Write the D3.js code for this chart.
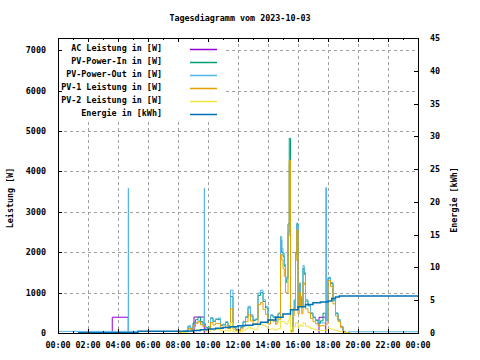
<!DOCTYPE html>
<html><head><meta charset="utf-8">
<script src="https://cdn.jsdelivr.net/npm/d3@7"></script>
<style>
html,body{margin:0;padding:0;background:#fff;}
text{font-family:"DejaVu Sans Mono",monospace;font-size:8.4px;fill:#000;font-weight:bold;}
</style></head>
<body>
<svg id="c" width="480" height="360"></svg>
<script>
const title = "Tagesdiagramm vom 2023-10-03";
const xTickLabels = ["00:00","02:00","04:00","06:00","08:00","10:00","12:00","14:00","16:00","18:00","20:00","22:00","00:00"];
const yLeftTicks = [0,1000,2000,3000,4000,5000,6000,7000];
const yRightTicks = [0,5,10,15,20,25,30,35,40,45];
const seriesNames = ["AC Leistung in [W]","PV-Power-In in [W]","PV-Power-Out in [W]","PV-1 Leistung in [W]","PV-2 Leistung in [W]","Energie in [kWh]"];
const seriesColors = ["#9400d3","#009e73","#56b4e9","#e69f00","#f0e442","#0072b2"];

// 10-minute readings
const dayTimes = ["08:00","08:10","08:20","08:30","08:40","08:50","09:00","09:10","09:20","09:30","09:40","09:50",
"10:00","10:10","10:20","10:30","10:40","10:50","11:00","11:10","11:20","11:30","11:40","11:50",
"12:00","12:10","12:20","12:30","12:40","12:50","13:00","13:10","13:20","13:30","13:40","13:50",
"14:00","14:10","14:20","14:30","14:40","14:50","15:00","15:10","15:20","15:30","15:40","15:50",
"16:00","16:10","16:20","16:30","16:40","16:50","17:00","17:10","17:20","17:30","17:40","17:50",
"18:00","18:10","18:20","18:30","18:40","18:50","19:00","19:10","19:20","19:30"];
const pvOutDay = [20,40,40,60,180,80,150,250,300,250,200,120,
130,380,300,350,370,200,220,280,180,1060,150,100,
80,150,290,410,660,450,330,350,990,1060,825,660,
330,450,410,300,490,2390,1980,1320,2500,50,600,2000,
660,900,1670,825,700,500,400,330,250,250,250,300,
1380,1250,825,500,330,165,40,10,30,30];
const pvInDay = [10,30,40,60,150,120,250,330,390,280,230,140,
150,360,280,340,330,190,200,260,170,900,140,90,
70,140,270,390,620,420,310,330,930,1000,780,620,
310,430,390,290,470,2300,1900,1250,2700,60,580,1950,
630,860,1600,790,670,480,380,310,240,300,490,320,
1350,1220,800,480,320,160,40,10,0,0];
const pv1Day = [5,20,25,40,110,80,180,240,280,200,160,90,
100,260,200,240,230,130,140,180,110,600,100,60,
50,100,190,280,450,300,220,240,700,750,580,460,
220,320,290,210,350,1950,1600,1000,2400,40,430,1800,
470,660,1250,600,500,360,280,230,170,180,180,220,
1300,1150,720,420,280,130,30,5,0,0];
const pv2Day = [5,10,15,20,40,40,60,80,90,70,60,40,
40,90,70,90,90,50,50,70,50,250,40,30,
20,40,70,100,150,110,80,90,200,220,180,150,
80,100,90,70,110,300,280,230,300,20,140,250,
150,180,250,170,150,110,100,80,60,60,60,70,
120,100,80,60,40,30,10,5,0,0];

// extra 5-minute readings around the midday peaks
const peakTimes = ["14:35","14:45","14:55","15:05","15:15","15:25","15:35","15:45","15:55","16:05","16:15","16:25"];
const pvOutPeak = [410,500,2100,1700,1400,4200,40,825,2720,1240,660,1500];
const pvInPeak  = [390,480,2000,1650,1350,4820,50,800,2700,1200,640,1450];
const pv1Peak   = [250,330,1800,1400,990,4280,30,600,2550,1000,480,1200];
const pv2Peak   = [90,110,280,260,220,420,10,160,260,200,160,240];

const pvOutExtraTimes = ["00:00","04:41","04:42","09:45","09:46","17:51","17:54","24:00"];
const pvOutExtraValues = [40,3580,40,3580,200,3600,300,30];
const acTimes = ["03:36","03:37","04:41","04:42","09:03","09:04","09:45","09:46","17:23","17:24","17:51"];
const acValues = [0,390,0,null,0,395,0,null,0,390,0];
const energyTimes = ["01:20","05:20","08:40","09:00","09:30","10:00","10:30","11:00","11:30","12:00","12:30","13:00","13:30","14:00","14:30","15:00","15:30","16:00","16:30","17:00","17:30","18:00","18:15","18:30","18:45","24:00"];
const energyValues = [0.05,0.25,0.3,0.4,0.5,0.6,0.72,0.85,0.97,1.1,1.2,1.35,1.65,2.0,2.4,2.9,3.55,4.0,4.35,4.6,4.72,4.9,5.25,5.5,5.64,5.64];

function h(s){const p=s.split(":");return +p[0]+(+p[1])/60;}
function pts(times, vals){return times.map((t,i)=>({t:h(t),v:vals[i]}));}
function merge(){const all=[];for(let i=0;i<arguments.length;i+=2){all.push(...pts(arguments[i],arguments[i+1]));}return all.sort((p,q)=>p.t-q.t);}

const L=58,R=418,T=38,B=333;
const svg=d3.select("#c");
const x=d3.scaleLinear().domain([0,24]).range([L,R]);
const yL=d3.scaleLinear().domain([0,7300]).range([B,T]);
const yR=d3.scaleLinear().domain([0,45]).range([B,T]);

// grid
const g=svg.append("g");
yLeftTicks.filter(v=>v>0).forEach(v=>g.append("line").attr("x1",L).attr("x2",R).attr("y1",Math.round(yL(v))+0.5).attr("y2",Math.round(yL(v))+0.5)
  .attr("stroke","#a0a0a0").attr("stroke-dasharray","3,3"));
d3.range(1,12).forEach(i=>g.append("line").attr("x1",Math.round(x(i*2))+0.5).attr("x2",Math.round(x(i*2))+0.5).attr("y1",T).attr("y2",B)
  .attr("stroke","#a0a0a0").attr("stroke-dasharray","3,3"));

const lineL=d3.line().defined(d=>d.v!==null).x(d=>x(d.t)).y(d=>yL(d.v)).curve(d3.curveStepAfter);
const lineR=d3.line().x(d=>x(d.t)).y(d=>yR(d.v)).curve(d3.curveStepAfter);

const data=[
  {pts:pts(acTimes,acValues),c:0,sc:lineL,w:1},
  {pts:merge(dayTimes,pvInDay,peakTimes,pvInPeak),c:1,sc:lineL,w:1},
  {pts:merge(dayTimes,pvOutDay,peakTimes,pvOutPeak,pvOutExtraTimes,pvOutExtraValues),c:2,sc:lineL,w:1},
  {pts:merge(dayTimes,pv1Day,peakTimes,pv1Peak),c:3,sc:lineL,w:1},
  {pts:merge(dayTimes,pv2Day,peakTimes,pv2Peak),c:4,sc:lineL,w:1},
  {pts:pts(energyTimes,energyValues),c:5,sc:lineR,w:1.5}
];
const dg=svg.append("g");
data.forEach(s=>dg.append("path").attr("d",s.sc(s.pts)).attr("fill","none").attr("stroke",seriesColors[s.c]).attr("stroke-width",s.w));

// legend
svg.append("rect").attr("x",L+0.5).attr("y",T+0.5).attr("width",165).attr("height",82).attr("fill","#fff");
seriesNames.forEach((n,i)=>{
  const yy=49+13*i;
  svg.append("text").attr("x",162).attr("y",yy-1.5).attr("text-anchor","end").attr("dominant-baseline","central").text(n);
  svg.append("line").attr("x1",190).attr("x2",217).attr("y1",yy+0.5).attr("y2",yy+0.5).attr("stroke",seriesColors[i]).attr("stroke-width",1.5);
});

// frame
svg.append("rect").attr("x",L+0.5).attr("y",T+0.5).attr("width",R-L).attr("height",B-T).attr("fill","none").attr("stroke","#000");
// ticks
const tg=svg.append("g").attr("stroke","#000");
yLeftTicks.forEach(v=>{const yy=Math.round(yL(v))+0.5;tg.append("line").attr("x1",L).attr("x2",L+4).attr("y1",yy).attr("y2",yy);});
yRightTicks.forEach(v=>{const yy=Math.round(yR(v))+0.5;tg.append("line").attr("x1",R-4).attr("x2",R).attr("y1",yy).attr("y2",yy);});
d3.range(0,25).forEach(i=>{const xx=Math.round(x(i))+0.5;const len=i%2===0?4:2;
  tg.append("line").attr("x1",xx).attr("x2",xx).attr("y1",B).attr("y2",B-len);
  tg.append("line").attr("x1",xx).attr("x2",xx).attr("y1",T).attr("y2",T+len);});

// tick labels
yLeftTicks.forEach(v=>svg.append("text").attr("x",46).attr("y",yL(v)).attr("text-anchor","end").attr("dominant-baseline","central").text(v));
yRightTicks.forEach(v=>svg.append("text").attr("x",430).attr("y",yR(v)).attr("text-anchor","start").attr("dominant-baseline","central").text(v));
xTickLabels.forEach((s,i)=>svg.append("text").attr("x",x(i*2)).attr("y",345).attr("text-anchor","middle").attr("dominant-baseline","central").text(s));

svg.append("text").attr("x",240).attr("y",18).attr("text-anchor","middle").attr("dominant-baseline","central").text(title);
svg.append("text").attr("transform","translate(10,198) rotate(-90)").attr("text-anchor","middle").attr("dominant-baseline","central").text("Leistung [W]");
svg.append("text").attr("transform","translate(454,200) rotate(-90)").attr("text-anchor","middle").attr("dominant-baseline","central").text("Energie [kWh]");
</script>
</body></html>
